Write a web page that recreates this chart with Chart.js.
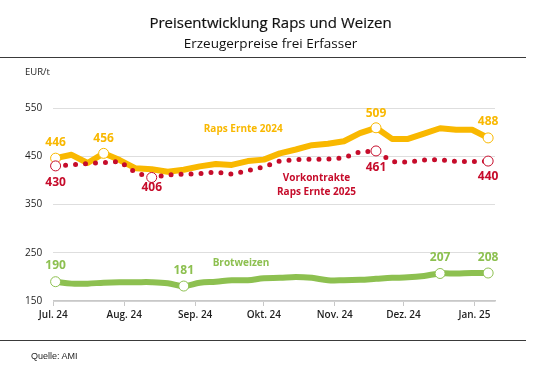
<!DOCTYPE html>
<html>
<head>
<meta charset="utf-8">
<script src="https://cdn.jsdelivr.net/npm/chart.js@4"></script>
<style>
  html, body { margin: 0; padding: 0; background: #fff; }
  #wrap { position: relative; width: 539px; height: 381px; overflow: hidden; font-family: "Open Sans", sans-serif; color: #1e1e1e; }
  #chart { position: absolute; left: 0; top: 0; }
  .title { position: absolute; left: 0; width: 541px; text-align: center; white-space: nowrap; color: #111; }
  #t1 { top: 12px; font-size: 15px; line-height: 20px; -webkit-text-stroke: 0.2px #111; }
  #t2 { top: 34px; font-size: 13.5px; line-height: 18px; }
  .rule { position: absolute; left: 0; width: 526px; height: 1px; background: #3a3a3a; }
  #unit { position: absolute; left: 25px; top: 65px; font-size: 9.5px; line-height: 14px; }
  #src { position: absolute; left: 31px; top: 349px; font-family: "Liberation Sans", Arial, sans-serif; font-size: 9px; line-height: 14px; }
</style>
</head>
<body>
<div id="wrap">
  <canvas id="chart" width="539" height="381"></canvas>
  <div class="title" id="t1">Preisentwicklung Raps und Weizen</div>
  <div class="title" id="t2">Erzeugerpreise frei Erfasser</div>
  <div class="rule" style="top:57px"></div>
  <div id="unit">EUR/t</div>
  <div class="rule" style="top:340px"></div>
  <div id="src">Quelle: AMI</div>
</div>
<script>
// ---- Data (EUR/t, weekly) ------------------------------------------
const weeks = [
  "2024-07-02", "2024-07-09", "2024-07-16", "2024-07-23", "2024-07-30",
  "2024-08-06", "2024-08-13", "2024-08-20", "2024-08-27", "2024-09-03",
  "2024-09-10", "2024-09-17", "2024-09-24", "2024-10-01", "2024-10-08",
  "2024-10-15", "2024-10-22", "2024-10-29", "2024-11-05", "2024-11-12",
  "2024-11-19", "2024-11-26", "2024-12-03", "2024-12-10", "2024-12-17",
  "2024-12-24", "2024-12-31", "2025-01-07",
];
const rapsErnte2024 = [446, 453, 436, 456, 442, 425, 423, 418, 422, 429, 434, 432, 440, 443,
                       456, 464, 473, 476, 481, 498, 509, 486, 486, 497, 508, 505, 505, 488];
const rapsVorkontrakte2025 = [430, 432, 435, 437, 439, 416, 406, 411, 413, 414, 417, 413, 420, 428,
                              440, 443, 444, 444, 447, 459, 461, 439, 438, 442, 443, 439, 439, 440];
const brotweizen = [190, 186, 186, 188, 189, 189, 189, 187, 181, 188, 190, 193, 193, 197,
                    198, 200, 198, 193, 193, 194, 196, 198, 199, 202, 207, 207, 208, 208];

// highlighted (labelled) points, by week index
const rapsMarked = [0, 3, 20, 27];
const vorkMarked = [0, 6, 20, 27];
const weizenMarked = [0, 8, 24, 27];

const monthStarts = ["2024-07-01", "2024-08-01", "2024-09-01", "2024-10-01", "2024-11-01", "2024-12-01", "2025-01-01"];
const monthLabels = ["Jul. 24", "Aug. 24", "Sep. 24", "Okt. 24", "Nov. 24", "Dez. 24", "Jan. 25"];
const yTicks = [150, 250, 350, 450, 550];

// ---- Styles --------------------------------------------------------
const C = {
  yellow: "#F9B800",
  red:    "#C60C2B",
  green:  "#8DC050",
  text:   "#1e1e1e",
  grid:   "#dedede",
  axis:   "#c8c8c8",
};
const FONT = "'Open Sans', sans-serif";

// offset of the value label from its point, px (negative = above), by series
const labelOffsets = {
  raps:   { 0: -16, 3: -15, 20: -14, 27: -16 },
  vork:   { 0: 17, 6: 10, 20: 17, 27: 16 },
  weizen: { 0: -16, 8: -15, 24: -16, 27: -15 },
};

// series names placed in data units
const seriesNames = [
  { text: ["Raps Ernte 2024"], x: 83, y: 507, color: C.yellow },
  { text: ["Vorkontrakte", "Raps Ernte 2025"], x: 115, y: 404, color: C.red },
  { text: ["Brotweizen"], x: 82, y: 229, color: C.green },
];

const DAY = 86400000;
const t0 = Date.UTC(2024, 6, 1);
const toDay = (s) => (Date.parse(s + "T00:00:00Z") - t0) / DAY;

function points(values) {
  return values.map((v, i) => ({ x: toDay(weeks[i]), y: v }));
}
function radii(marked) {
  return weeks.map((_, i) => (marked.includes(i) ? 5 : 0));
}

Chart.defaults.font.family = FONT;
Chart.defaults.color = C.text;

const labelPlugin = {
  id: "valueLabels",
  afterDatasetsDraw(chart) {
    const ctx = chart.ctx;
    const xs = chart.scales.x, ys = chart.scales.y;
    ctx.save();
    ctx.textAlign = "center";
    ctx.textBaseline = "middle";

    // value labels
    ctx.font = "bold 12px " + FONT;
    chart.data.datasets.forEach((ds, di) => {
      const meta = chart.getDatasetMeta(di);
      const offs = labelOffsets[ds.key];
      Object.keys(offs).forEach((k) => {
        const i = +k;
        const pt = meta.data[i];
        ctx.fillStyle = ds.borderColor;
        ctx.fillText(String(ds.data[i].y), pt.x, pt.y + offs[k]);
      });
    });

    // series names
    ctx.font = "bold 10px " + FONT;
    seriesNames.forEach((s) => {
      ctx.fillStyle = s.color;
      const px = xs.getPixelForValue(s.x);
      const py = ys.getPixelForValue(s.y);
      s.text.forEach((line, j) => ctx.fillText(line, px, py + j * 14));
    });
    ctx.restore();
  },
};

new Chart(document.getElementById("chart"), {
  type: "line",
  data: {
    datasets: [
      {
        key: "vork",
        label: "Vorkontrakte Raps Ernte 2025",
        data: points(rapsVorkontrakte2025),
        borderColor: C.red,
        borderWidth: 5,
        borderDash: [0, 10],
        borderCapStyle: "round",
        tension: 0,
        pointRadius: radii(vorkMarked),
        pointBackgroundColor: "#fff",
        pointBorderColor: C.red,
        pointBorderWidth: 1,
        order: 0,
        clip: false,
      },
      {
        key: "raps",
        label: "Raps Ernte 2024",
        data: points(rapsErnte2024),
        borderColor: C.yellow,
        borderWidth: 6,
        borderJoinStyle: "round",
        tension: 0,
        pointRadius: radii(rapsMarked),
        pointBackgroundColor: "#fff",
        pointBorderColor: C.yellow,
        pointBorderWidth: 1,
        order: 1,
        clip: false,
      },
      {
        key: "weizen",
        label: "Brotweizen",
        data: points(brotweizen),
        borderColor: C.green,
        borderWidth: 6,
        borderJoinStyle: "round",
        tension: 0.35,
        pointRadius: radii(weizenMarked),
        pointBackgroundColor: "#fff",
        pointBorderColor: C.green,
        pointBorderWidth: 1,
        order: 2,
        clip: false,
      },
    ],
  },
  options: {
    responsive: false,
    animation: false,
    events: [],
    layout: { padding: { left: 25, right: 44, top: 108, bottom: 49 } },
    plugins: { legend: { display: false }, tooltip: { enabled: false }, title: { display: false } },
    scales: {
      x: {
        type: "linear",
        min: 0,
        max: 193,
        afterBuildTicks: (s) => { s.ticks = monthStarts.map((d) => ({ value: toDay(d) })); },
        afterFit: (s) => { s.height = 31; },
        grid: { drawOnChartArea: false, drawTicks: true, tickLength: 5, color: C.axis, lineWidth: 1 },
        border: { color: C.axis, width: 1.5 },
        ticks: {
          autoSkip: false,
          maxRotation: 0,
          padding: 3,
          color: C.text,
          font: { size: 10, weight: "600" },
          callback: (v) => monthLabels[monthStarts.findIndex((d) => toDay(d) === v)],
        },
      },
      y: {
        min: 150,
        max: 550,
        afterBuildTicks: (s) => { s.ticks = yTicks.map((v) => ({ value: v })); },
        afterFit: (s) => { s.width = 28.3; },
        grid: { color: C.grid, lineWidth: 1, drawTicks: false },
        border: { display: false },
        ticks: {
          crossAlign: "far",
          padding: 0,
          color: C.text,
          font: { size: 10 },
        },
      },
    },
  },
  plugins: [labelPlugin],
});
</script>
</body>
</html>
